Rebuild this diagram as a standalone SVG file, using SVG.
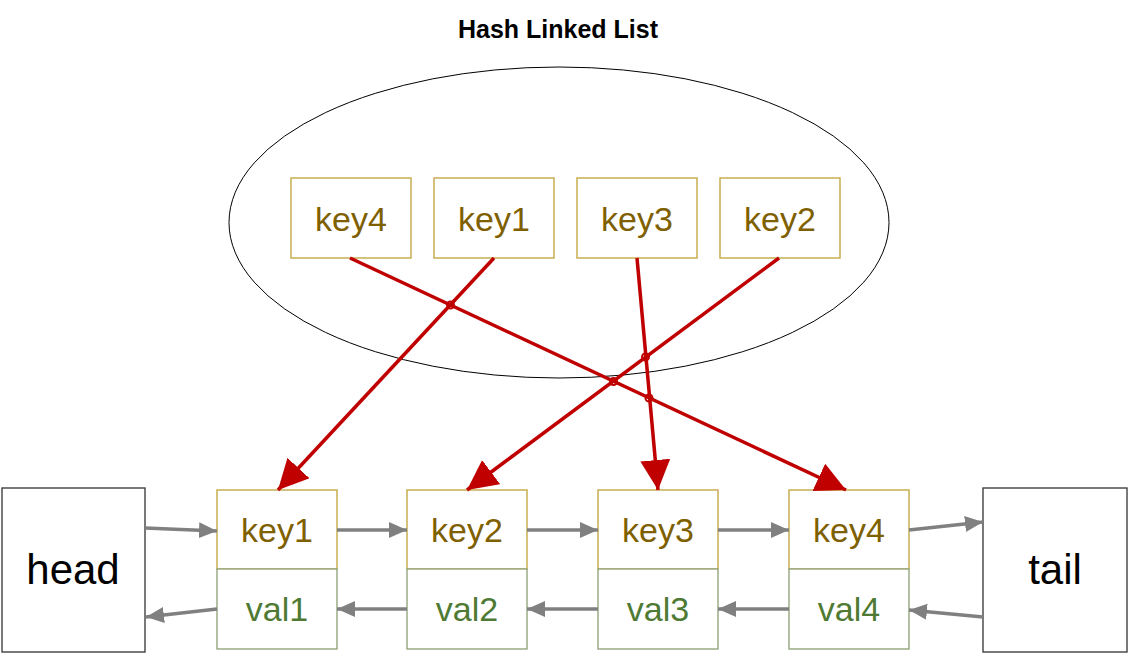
<svg xmlns="http://www.w3.org/2000/svg" width="1128" height="653" viewBox="0 0 1128 653">
<style>
.t{font-family:"Liberation Sans",Arial,sans-serif;text-anchor:middle}
.key rect{fill:#fff;stroke:#C4A846;stroke-width:1.4}
.key text{fill:#7F6000;font-size:34px}
.val rect{fill:#fff;stroke:#95A57E;stroke-width:1.4}
.val text{fill:#4E7A33;font-size:34px}
.end rect{fill:#fff;stroke:#404040;stroke-width:1.4}
.end text{fill:#000;font-size:42px}
.red{stroke:#C00000;stroke-width:3.5;fill:none;marker-end:url(#rh)}
.gray{stroke:#808080;stroke-width:3.5;fill:none;marker-end:url(#gh)}
.jump{fill:none;stroke:#C00000;stroke-width:2}
</style>
<defs>
<marker id="rh" markerUnits="userSpaceOnUse" markerWidth="34" markerHeight="32" refX="30" refY="15" orient="auto" viewBox="0 0 34 32">
<path d="M0,0 L30,15 L0,30 Z" fill="#C00000"/>
</marker>
<marker id="gh" markerUnits="userSpaceOnUse" markerWidth="20" markerHeight="18" refX="18" refY="8" orient="auto" viewBox="0 0 20 18">
<path d="M0,0 L18,8 L0,16 Z" fill="#808080"/>
</marker>
</defs>
<rect width="1128" height="653" fill="#fff"/>
<text class="t" x="558" y="38" font-size="25" font-weight="bold" fill="#000">Hash Linked List</text>
<g id="hashset">
<ellipse cx="559" cy="222.5" rx="330" ry="155.5" fill="none" stroke="#000" stroke-width="1"/>
</g>
<g id="h-key4" class="key"><rect x="291" y="178" width="120" height="80"/><text class="t" x="351" y="231">key4</text></g>
<g id="h-key1" class="key"><rect x="434" y="178" width="120" height="80"/><text class="t" x="494" y="231">key1</text></g>
<g id="h-key3" class="key"><rect x="577" y="178" width="120" height="80"/><text class="t" x="637" y="231">key3</text></g>
<g id="h-key2" class="key"><rect x="720" y="178" width="120" height="80"/><text class="t" x="780" y="231">key2</text></g>
<g id="head" class="end"><rect x="2" y="488" width="143" height="164"/><text class="t" x="73" y="584">head</text></g>
<g id="tail" class="end"><rect x="983" y="488" width="144" height="164"/><text class="t" x="1055" y="584">tail</text></g>
<g id="node1"><g class="key"><rect x="217" y="490" width="120" height="79"/><text class="t" x="277" y="542">key1</text></g><g class="val"><rect x="217" y="569" width="120" height="80"/><text class="t" x="277" y="621">val1</text></g></g>
<g id="node2"><g class="key"><rect x="407" y="490" width="120" height="79"/><text class="t" x="467" y="542">key2</text></g><g class="val"><rect x="407" y="569" width="120" height="80"/><text class="t" x="467" y="621">val2</text></g></g>
<g id="node3"><g class="key"><rect x="598" y="490" width="120" height="79"/><text class="t" x="658" y="542">key3</text></g><g class="val"><rect x="598" y="569" width="120" height="80"/><text class="t" x="658" y="621">val3</text></g></g>
<g id="node4"><g class="key"><rect x="789" y="490" width="120" height="79"/><text class="t" x="849" y="542">key4</text></g><g class="val"><rect x="789" y="569" width="120" height="80"/><text class="t" x="849" y="621">val4</text></g></g>
<g id="connectors">
<path class="red" d="M350,258 L846,490"/>
<path class="red" d="M494,258 L278,490"/>
<path class="red" d="M637,258 L658,490"/>
<path class="red" d="M779,258 L467,490"/>
<circle class="jump" cx="450.5" cy="305" r="3.5"/>
<circle class="jump" cx="613.5" cy="381.5" r="3.5"/>
<circle class="jump" cx="649" cy="398" r="3.5"/>
<circle class="jump" cx="645.5" cy="357" r="3.5"/>
<path class="gray" d="M145,528 L217,531"/>
<path class="gray" d="M337,530 L407,530"/>
<path class="gray" d="M527,530 L598,530"/>
<path class="gray" d="M718,530 L789,530"/>
<path class="gray" d="M909,530 L983,522"/>
<path class="gray" d="M983,617 L909,610"/>
<path class="gray" d="M789,609 L718,609"/>
<path class="gray" d="M598,609 L527,609"/>
<path class="gray" d="M407,609 L337,609"/>
<path class="gray" d="M217,609 L146,617"/>
</g>
</svg>
